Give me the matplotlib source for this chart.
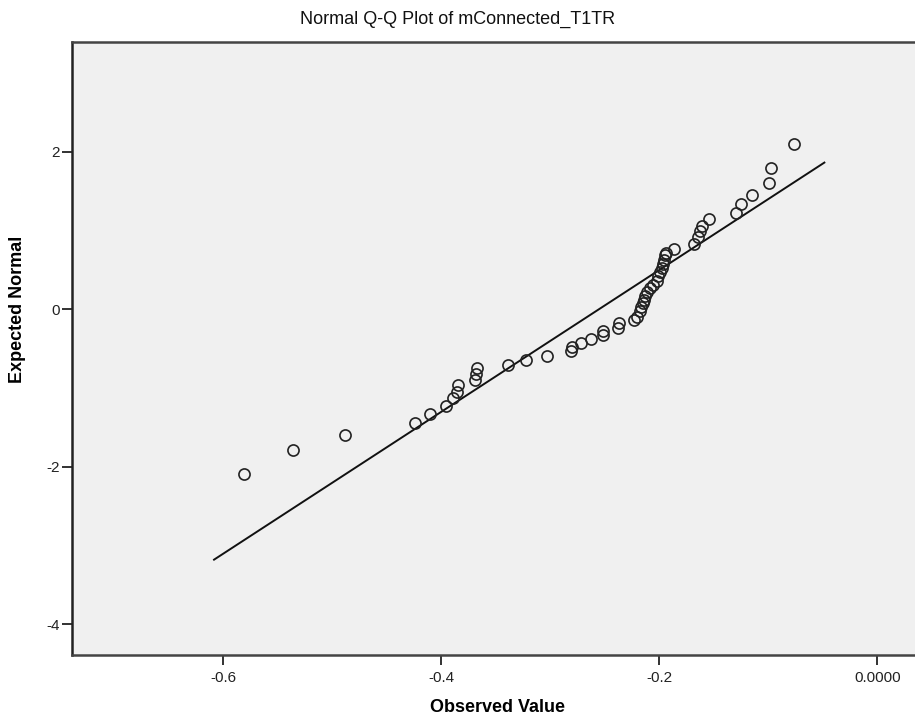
import matplotlib.pyplot as plt

observed = [
    -0.5807, -0.5363, -0.4883, -0.4239, -0.4101, -0.3960, -0.3890, -0.3859,
    -0.3843, -0.3691, -0.3682, -0.3675, -0.3385, -0.3223, -0.3033, -0.2810,
    -0.2804, -0.2718, -0.2627, -0.2519, -0.2514, -0.2382, -0.2370, -0.2229,
    -0.2202, -0.2177, -0.2168, -0.2152, -0.2138, -0.2131, -0.2116, -0.2085,
    -0.2055, -0.2024, -0.2009, -0.1994, -0.1978, -0.1963, -0.1954, -0.1948,
    -0.1940, -0.1862, -0.1682, -0.1642, -0.1627, -0.1606, -0.1544, -0.1296,
    -0.1253, -0.1147, -0.0994, -0.0978, -0.0761,
]
expected = [
    -2.090, -1.783, -1.595, -1.447, -1.325, -1.227, -1.129, -1.046,
    -0.961, -0.897, -0.821, -0.749, -0.707, -0.652, -0.593, -0.538,
    -0.482, -0.431, -0.377, -0.326, -0.272, -0.241, -0.178, -0.136,
    -0.094, -0.030, 0.025, 0.076, 0.118, 0.169, 0.211, 0.266,
    0.308, 0.359, 0.414, 0.477, 0.520, 0.571, 0.626, 0.689,
    0.718, 0.765, 0.829, 0.921, 0.994, 1.057, 1.142, 1.218,
    1.332, 1.451, 1.599, 1.789, 2.094,
]

# reference line: y = (x - mean) / sd over this x range
line_x = [-0.6085, -0.0486]
mean_val = -0.2552
sd_val = 0.1111

x_ticks = [-0.6, -0.4, -0.2, 0.0]
x_tick_labels = ["-0.6", "-0.4", "-0.2", "0.0000"]
y_ticks = [-4, -2, 0, 2]
y_tick_labels = ["-4", "-2", "0", "2"]

plt.rcParams["font.family"] = ["Liberation Sans", "DejaVu Sans"]

W, H = 915, 727
fig = plt.figure(figsize=(W / 100, H / 100), dpi=100)
fig.patch.set_facecolor("white")

# axes box in pixels; the right side runs past the image edge like the original
left, right, top, bottom = 72, 924, 42, 655
ax = fig.add_axes([left / W, (H - bottom) / H, (right - left) / W, (bottom - top) / H])
ax.set_facecolor("#f0f0f0")

ax.plot(
    observed, expected, linestyle="none", marker="o", markersize=8,
    markerfacecolor="none", markeredgecolor="#222222", markeredgewidth=1.2,
    zorder=3,
)

line_y = [(x - mean_val) / sd_val for x in line_x]
ax.plot(line_x, line_y, color="#111111", linewidth=1.4, zorder=2)

ax.set_xlim(-0.7388, 0.0428)
ax.set_ylim(-4.39, 3.39)

ax.set_xticks(x_ticks)
ax.set_xticklabels(x_tick_labels)
ax.set_yticks(y_ticks)
ax.set_yticklabels(y_tick_labels)
ax.tick_params(axis="both", direction="out", length=7.5, width=1.3,
               color="#222222", labelsize=11, labelcolor="#222222")
ax.tick_params(axis="x", pad=4)
ax.tick_params(axis="y", pad=1)

for side in ("left", "bottom", "top"):
    ax.spines[side].set_linewidth(1.8)
    ax.spines[side].set_color("#444444")
ax.spines["left"].set_color("#222222")
ax.spines["right"].set_visible(False)

ax_w = right - left
ax_h = bottom - top
ax.set_xlabel("Observed Value", fontsize=13, fontweight="bold")
ax.xaxis.set_label_coords(0.5, -(708 - bottom) / ax_h)
ax.set_ylabel("Expected Normal", fontsize=13, fontweight="bold")
ax.yaxis.set_label_coords(-(left - 18) / ax_w, (bottom - 309) / ax_h)
ax.xaxis.label.set_va("center")
ax.yaxis.label.set_va("center")

fig.text(0.5, 1 - 19 / H, "Normal Q-Q Plot of mConnected_T1TR",
         ha="center", va="center", fontsize=13, color="#111111")

fig.savefig("out.png", dpi=100, facecolor="white")
